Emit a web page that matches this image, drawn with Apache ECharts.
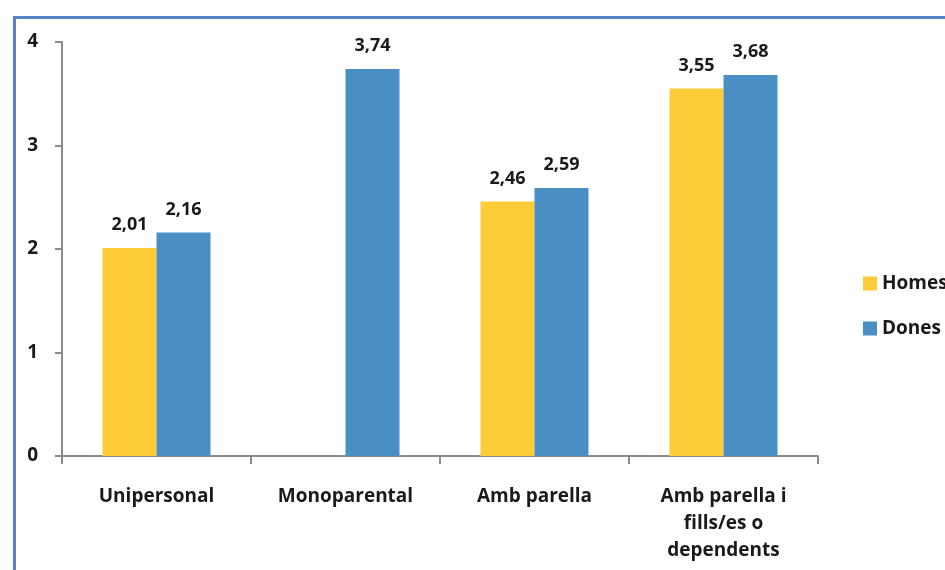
<!DOCTYPE html>
<html><head><meta charset="utf-8">
<script src="https://cdn.jsdelivr.net/npm/echarts@6/dist/echarts.min.js"></script>
<style>html,body{margin:0;padding:0;background:#fff}#c{width:945px;height:570px}</style>
</head><body><div id="c"></div>
<script>
const categories = ['Unipersonal', 'Monoparental', 'Amb parella', 'Amb parella i\nfills/es o\ndependents'];
const homes = [2.01, null, 2.46, 3.55];
const dones = [2.16, 3.74, 2.59, 3.68];
const seriesNames = ['Homes', 'Dones'];
const yTicks = [0, 1, 2, 3, 4];

const font = '"Open Sans", sans-serif';
const chart = echarts.init(document.getElementById('c'), null, {renderer: 'canvas'});
const lbl = {
  show: true, position: 'top', distance: 14, fontFamily: font, fontWeight: 'bold',
  fontSize: 18, color: '#1a1a1a',
  formatter: p => p.value == null ? '' : p.value.toFixed(2).replace('.', ',')
};
chart.setOption({
  animation: false,
  textStyle: {fontFamily: font},
  graphic: [{
    type: 'rect', left: 12, top: 15, z: -1,
    shape: {x: 0, y: 0, width: 1000, height: 1000},
    style: {fill: 'none', stroke: '#5585C5', lineWidth: 3}
  }],
  grid: {left: 62, right: 127, top: 42, bottom: 114},
  legend: {
    orient: 'vertical', left: 858, top: 269, itemGap: 26,
    itemWidth: 14, itemHeight: 14, icon: 'rect',
    textStyle: {fontFamily: font, fontWeight: 'bold', fontSize: 19, color: '#1a1a1a'},
    data: seriesNames
  },
  xAxis: {
    type: 'category', data: categories,
    axisLine: {lineStyle: {color: '#8c8c8c', width: 2}},
    axisTick: {show: true, length: 8, lineStyle: {color: '#8c8c8c', width: 2}},
    axisLabel: {interval: 0, margin: 27, fontFamily: font, fontWeight: 'bold', fontSize: 19, color: '#1a1a1a', lineHeight: 27, verticalAlign: 'top'}
  },
  yAxis: {
    type: 'value', min: yTicks[0], max: yTicks[yTicks.length - 1], interval: 1,
    splitLine: {show: false},
    axisLine: {show: true, lineStyle: {color: '#8c8c8c', width: 2}},
    axisTick: {show: true, length: 7, lineStyle: {color: '#8c8c8c', width: 2}},
    axisLabel: {margin: 24, fontFamily: font, fontWeight: 'bold', fontSize: 19, color: '#1a1a1a'}
  },
  series: [
    {name: seriesNames[0], type: 'bar', data: homes, barWidth: 54, barGap: '0%',
     itemStyle: {color: '#FFCC39'}, label: lbl},
    {name: seriesNames[1], type: 'bar', data: dones, barWidth: 54, barGap: '0%',
     itemStyle: {color: '#4A8FC4'}, label: lbl}
  ]
});
</script></body></html>
